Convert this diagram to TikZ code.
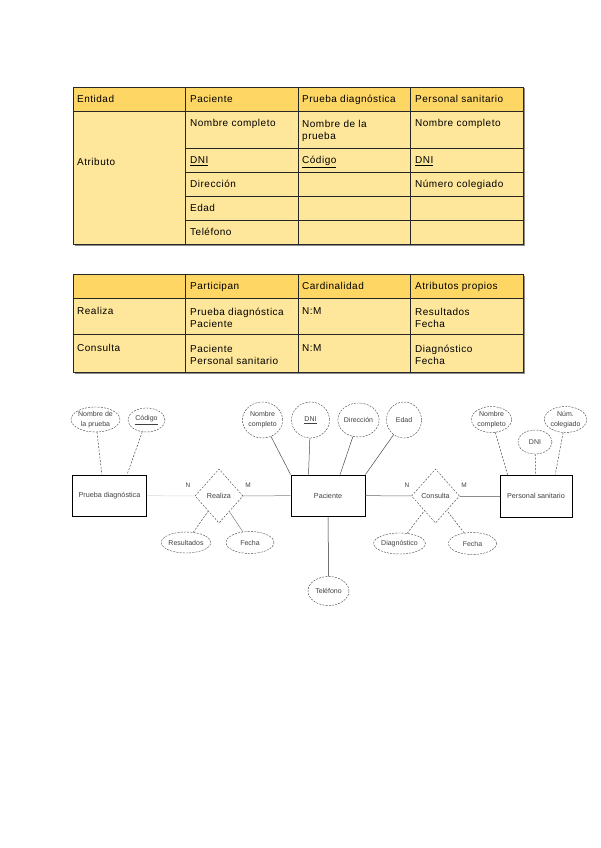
\documentclass[tikz,border=0pt]{standalone}
\usepackage{fontspec}
\setmainfont{Liberation Sans}
\newfontfamily\tabfont{Liberation Sans}[LetterSpace=5]
\usetikzlibrary{shapes.geometric}
\definecolor{hdrgold}{HTML}{FDD663}
\definecolor{cellgold}{HTML}{FEE69A}
\tikzset{
  tabline/.style={draw=black!85, line width=0.7pt},
  tabtwo/.style={anchor=west, inner sep=0pt, align=left, font=\tabfont\fontsize{10}{12}\selectfont},
  tabtext/.style={tabtwo, text height=7.5pt, text depth=2.5pt},
  entity/.style={draw=black, line width=0.8pt, minimum width=74pt, minimum height=41pt, inner sep=0pt, font=\fontsize{7.2}{9}\selectfont, text=black!75},
  relation/.style={diamond, draw=black!75, dash pattern=on 2pt off 1.5pt, minimum width=48pt, minimum height=54pt, inner sep=0pt, font=\fontsize{7.2}{9}\selectfont, text=black!75},
  attr/.style={ellipse, draw=black!75, dash pattern=on 2pt off 1.2pt, inner sep=0pt, align=center, font=\fontsize{7}{10}\selectfont, text=black!75},
  link/.style={draw=black!70, line width=0.5pt},
  dlink/.style={link, dash pattern=on 2pt off 1.5pt},
  card/.style={inner sep=0pt, font=\fontsize{6.5}{8}\selectfont, text=black!75}
}
\begin{document}
\begin{tikzpicture}[x=1pt,y=-1pt]
		%%%%% PAGE %%%%%
		\fill[white] (0,0) rectangle (600,848);
		\useasboundingbox (0,0) rectangle (600,848);
		
		%%%%% TABLE OF ENTITIES %%%%%
		\fill[black!45] (74.5,88.5) rectangle (524.5,245.5);
		\fill[hdrgold] (73,87) rectangle (523,111.5);
		\fill[cellgold] (73,111.5) rectangle (523,244);
		\draw[tabline] (73,87) rectangle (523,244);
		\draw[tabline] (73,111.5) -- (523,111.5);
		\foreach \x in {185,298,410} \draw[tabline] (\x,87) -- (\x,244);
		\foreach \y in {148,172,196,220} \draw[tabline] (185,\y) -- (523,\y);
		
		\node[tabtext] (hEntidad) at (77,100) {Entidad};
		\node[tabtext] (hPaciente) at (190,100) {Paciente};
		\node[tabtext] (hPrueba) at (302,100) {Prueba diagnóstica};
		\node[tabtext] (hPersonal) at (415,100) {Personal sanitario};
		\node[tabtext] (tAtributo) at (77,162.5) {Atributo};
		\node[tabtext] (tNombreP) at (190,124.5) {Nombre completo};
		\node[tabtwo] (tNombreD) at (302,130.5) {Nombre de la\\prueba};
		\node[tabtext] (tNombreS) at (415,124.5) {Nombre completo};
		\node[tabtext] (tDniP) at (190,161) {\underline{DNI}};
		\node[tabtext] (tCodigo) at (302,161) {\underline{Código}};
		\node[tabtext] (tDniS) at (415,161) {\underline{DNI}};
		\node[tabtext] (tDireccion) at (190,185) {Dirección};
		\node[tabtext] (tNumero) at (415,185) {Número colegiado};
		\node[tabtext] (tEdad) at (190,209) {Edad};
		\node[tabtext] (tTelefono) at (190,233) {Teléfono};
		
		%%%%% TABLE OF RELATIONS %%%%%
		\fill[black!45] (74.5,275.5) rectangle (524.5,373.5);
		\fill[hdrgold] (73,274) rectangle (523,298.5);
		\fill[cellgold] (73,298.5) rectangle (523,372);
		\draw[tabline] (73,274) rectangle (523,372);
		\draw[tabline] (73,298.5) -- (523,298.5);
		\draw[tabline] (73,334.5) -- (523,334.5);
		\foreach \x in {185,298,410} \draw[tabline] (\x,274) -- (\x,372);
		
		\node[tabtext] (hParticipan) at (190,287) {Participan};
		\node[tabtext] (hCardinal) at (302,287) {Cardinalidad};
		\node[tabtext] (hPropios) at (415,287) {Atributos propios};
		\node[tabtext] (tRealiza) at (77,312) {Realiza};
		\node[tabtwo] (tPartR) at (190,318) {Prueba diagnóstica\\Paciente};
		\node[tabtext] (tCardR) at (302,312) {N:M};
		\node[tabtwo] (tPropR) at (415,318) {Resultados\\Fecha};
		\node[tabtext] (tConsulta) at (77,349) {Consulta};
		\node[tabtwo] (tPartC) at (190,354.5) {Paciente\\Personal sanitario};
		\node[tabtext] (tCardC) at (302,349) {N:M};
		\node[tabtwo] (tPropC) at (415,354.5) {Diagnóstico\\Fecha};
		
		%%%%% ER DIAGRAM %%%%%
		\node[entity] (prueba) at (109.5,495.5) {Prueba diagnóstica};
		\node[entity] (paciente) at (328,495.5) {Paciente};
		\node[entity, minimum width=72pt, minimum height=42pt] (personal) at (536,496) {Personal sanitario};
		
		\node[relation] (realiza) at (219,496) {Realiza};
		\node[relation] (consulta) at (435.5,496) {Consulta};
		
		\node[card] (nReal) at (188,485) {N};
		\node[card] (mReal) at (248,485) {M};
		\node[card] (nCons) at (407,485) {N};
		\node[card] (mCons) at (464,485) {M};
		
		\node[attr, minimum width=43pt, minimum height=25pt] (pNombre) at (95.5,419.5) {Nombre de\\la prueba};
		\node[attr, minimum width=37pt, minimum height=24pt] (pCodigo) at (146.5,420) {\underline{Código}};
		\node[attr, minimum width=42pt, minimum height=21pt] (resultados) at (186,542.5) {Resultados};
		\node[attr, minimum width=48pt, minimum height=22pt] (rFecha) at (250,542.5) {Fecha};
		
		\node[attr, minimum width=40pt, minimum height=36pt] (cNombre) at (262.5,420) {Nombre\\completo};
		\node[attr, minimum width=38pt, minimum height=36pt] (cDNI) at (310.5,420) {\underline{DNI}};
		\node[attr, minimum width=37pt, minimum height=34pt] (direccion) at (358.5,420) {Dirección};
		\node[attr, minimum width=35pt, minimum height=36pt] (edad) at (404,420) {Edad};
		\node[attr, minimum width=41pt, minimum height=29pt] (telefono) at (328.5,591) {Teléfono};
		
		\node[attr, minimum width=47pt, minimum height=21pt] (diagnostico) at (399.5,543.5) {Diagnóstico};
		\node[attr, minimum width=48pt, minimum height=22pt] (cFecha) at (472.5,543.5) {Fecha};
		
		\node[attr, minimum width=34pt, minimum height=26pt] (sNombre) at (491.5,419.5) {Nombre\\completo};
		\node[attr, minimum width=34pt, minimum height=24pt] (sDNI) at (535,442) {DNI};
		\node[attr, minimum width=32pt, minimum height=26pt] (sNumero) at (565.5,419.5) {Núm.\\colegiado};
		
		% relations
		\draw[link, draw=black!15] (prueba) -- (realiza);
		\draw[link, draw=black!50] (realiza) -- (paciente);
		\draw[link, draw=black!60] (paciente) -- (consulta);
		\draw[link, draw=black!45] (consulta) -- (personal);
		
		% attributes
		\draw[dlink] (pNombre) -- (prueba.110);
		\draw[dlink] (pCodigo) -- (prueba.50);
		\draw[dlink] (resultados) -- (realiza);
		\draw[link, draw=black!50] (rFecha) -- (realiza);
		\draw[link] (cNombre) -- (paciente.north west);
		\draw[link] (cDNI) -- (paciente.133);
		\draw[link] (direccion) -- (paciente.60);
		\draw[link] (edad) -- (paciente.north east);
		\draw[link, draw=black!85] (telefono) -- (paciente);
		\draw[dlink] (diagnostico) -- (consulta);
		\draw[dlink] (cFecha) -- (consulta);
		\draw[dlink] (sNombre) -- (personal.143);
		\draw[dlink] (sDNI) -- (personal);
		\draw[dlink] (sNumero) -- (personal.48);
		
		%%%%% END %%%%%
	\end{tikzpicture}
\end{document}
